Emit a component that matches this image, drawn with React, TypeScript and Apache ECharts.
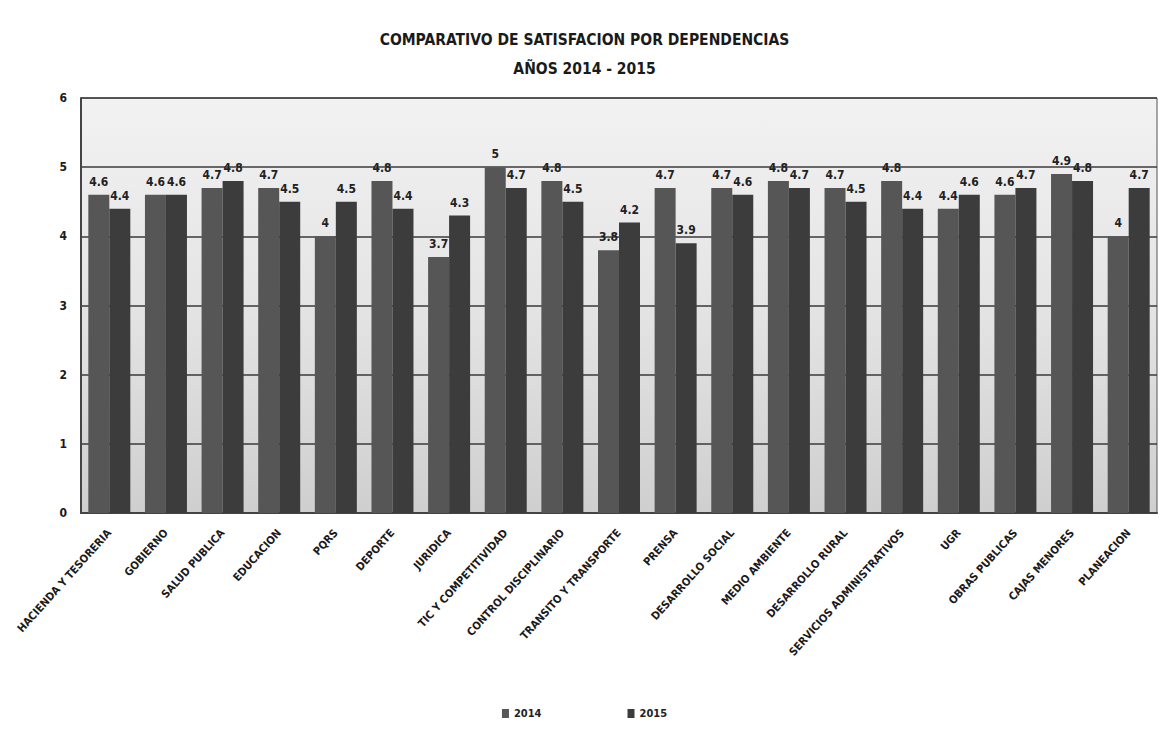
import React, { useEffect, useRef } from "react";
import * as echarts from "echarts";

const categories = [
  "HACIENDA Y TESORERIA",
  "GOBIERNO",
  "SALUD PUBLICA",
  "EDUCACION",
  "PQRS",
  "DEPORTE",
  "JURIDICA",
  "TIC Y COMPETITIVIDAD",
  "CONTROL DISCIPLINARIO",
  "TRANSITO Y TRANSPORTE",
  "PRENSA",
  "DESARROLLO SOCIAL",
  "MEDIO AMBIENTE",
  "DESARROLLO RURAL",
  "SERVICIOS ADMINISTRATIVOS",
  "UGR",
  "OBRAS PUBLICAS",
  "CAJAS MENORES",
  "PLANEACION",
];

const values2014 = [4.6, 4.6, 4.7, 4.7, 4, 4.8, 3.7, 5, 4.8, 3.8, 4.7, 4.7, 4.8, 4.7, 4.8, 4.4, 4.6, 4.9, 4];
const values2015 = [4.4, 4.6, 4.8, 4.5, 4.5, 4.4, 4.3, 4.7, 4.5, 4.2, 3.9, 4.6, 4.7, 4.5, 4.4, 4.6, 4.7, 4.8, 4.7];

const FONT = "'DejaVu Sans Condensed', 'Liberation Sans', sans-serif";

export default function App() {
  const ref = useRef<HTMLDivElement>(null);
  useEffect(() => {
    if (!ref.current) return;
    const chart = echarts.init(ref.current, null, { renderer: "svg" });
    const labelStyle = {
      show: true,
      position: "top" as const,
      distance: 7,
      color: "#222",
      fontSize: 12,
      fontWeight: "bold" as const,
      fontFamily: FONT,
    };
    chart.setOption({
      animation: false,
      backgroundColor: "#ffffff",
      title: {
        text: "COMPARATIVO DE SATISFACION POR DEPENDENCIAS\nAÑOS 2014 - 2015",
        left: "center",
        top: 20,
        textStyle: {
          fontFamily: FONT,
          fontSize: 15.5,
          fontWeight: "bold",
          color: "#1a1a1a",
          lineHeight: 29,
        },
      },
      legend: {
        bottom: 12,
        left: "center",
        itemGap: 86,
        itemWidth: 7,
        itemHeight: 9,
        icon: "rect",
        textStyle: {
          fontFamily: FONT,
          fontSize: 11,
          fontWeight: "bold",
          color: "#222",
        },
        data: ["2014", "2015"],
      },
      grid: {
        left: 81,
        right: 12,
        top: 98,
        bottom: 223,
        show: true,
        backgroundColor: new echarts.graphic.LinearGradient(0, 0, 0, 1, [
          { offset: 0, color: "#f2f2f2" },
          { offset: 0.5, color: "#e4e4e4" },
          { offset: 1, color: "#cfcfcf" },
        ]),
        borderColor: "#555",
        borderWidth: 1,
      },
      xAxis: {
        type: "category",
        data: categories,
        axisTick: { show: false },
        axisLine: { lineStyle: { color: "#444", width: 2 } },
        axisLabel: {
          interval: 0,
          rotate: 48,
          margin: 18,
          fontFamily: FONT,
          fontSize: 11,
          fontWeight: "bold",
          color: "#1a1a1a",
        },
      },
      yAxis: {
        type: "value",
        min: 0,
        max: 6,
        interval: 1,
        axisLine: { show: true, lineStyle: { color: "#444", width: 2 } },
        axisTick: { show: false },
        splitLine: { lineStyle: { color: "#3a3a3a", width: 1.5 } },
        axisLabel: {
          margin: 14,
          fontFamily: FONT,
          fontSize: 12,
          fontWeight: "bold",
          color: "#1a1a1a",
        },
      },
      series: [
        {
          name: "2014",
          type: "bar",
          data: values2014,
          barWidth: 21,
          barGap: "0%",
          itemStyle: { color: "#565656" },
          label: labelStyle,
        },
        {
          name: "2015",
          type: "bar",
          data: values2015,
          barWidth: 21,
          barGap: "0%",
          itemStyle: { color: "#3c3c3c" },
          label: labelStyle,
        },
      ],
    });
    return () => chart.dispose();
  }, []);
  return <div ref={ref} style={{ width: 1169, height: 736, margin: -8 }} />;
}
